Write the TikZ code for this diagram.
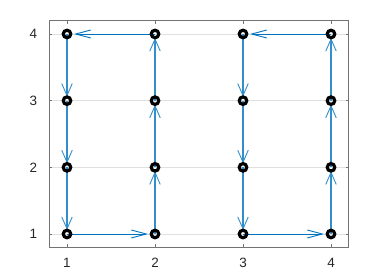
\documentclass[tikz,border=0pt]{standalone}
\usepackage{fontspec}
\setmainfont{Liberation Sans}
\usetikzlibrary{arrows.meta}
\definecolor{mblue}{rgb}{0,0.447,0.741}
\begin{document}
\begin{tikzpicture}[x=88pt,y=66.667pt,
  axisline/.style={draw=black!55, line width=0.6pt},
  gridline/.style={draw=black!12, line width=0.5pt},
  ticklbl/.style={text=black!85, font=\fontsize{13.5}{16}\selectfont, inner sep=0pt},
  marker/.style={circle, draw=black, line width=3.2pt, inner sep=0pt, minimum size=7.5pt},
  harrow/.style={draw=mblue, line width=0.9pt, -{Straight Barb[length=15pt,width=8pt]}, shorten >=7pt},
  varrow/.style={draw=mblue!80, line width=1.2pt, -{Straight Barb[length=12pt,width=10.5pt,line width=0.9pt]}, shorten >=4pt}
]
\useasboundingbox (0.2386,0.34) rectangle (4.625,4.51);
% grid
\foreach \y in {1,2,3,4} \draw[gridline] (0.8,\y) -- (4.2,\y);
% box
\draw[axisline] (0.8,0.8) rectangle (4.2,4.2);
% ticks
\foreach \i in {1,2,3,4} {
  \draw[axisline] (\i,0.8) -- ([yshift=3pt]\i,0.8);
  \draw[axisline] (\i,4.2) -- ([yshift=-3pt]\i,4.2);
  \draw[axisline] (0.8,\i) -- ([xshift=3pt]0.8,\i);
  \draw[axisline] (4.2,\i) -- ([xshift=-3pt]4.2,\i);
  \node[ticklbl, anchor=base] (xl\i) at ([yshift=-20.5pt]\i,0.8) {\i};
  \node[ticklbl, anchor=base east] (yl\i) at ([xshift=-12pt,yshift=-4.8pt]0.8,\i) {\i};
}
% points
\foreach \x in {1,2,3,4} \foreach \y in {1,2,3,4}
  \coordinate (c\x\y) at (\x,\y);
% arrows
\draw[varrow] (c14) -- (c13);
\draw[varrow] (c13) -- (c12);
\draw[varrow] (c12) -- (c11);
\draw[harrow] (c11) -- (c21);
\draw[varrow] (c21) -- (c22);
\draw[varrow] (c22) -- (c23);
\draw[varrow] (c23) -- (c24);
\draw[harrow] (c24) -- (c14);
\draw[varrow] (c34) -- (c33);
\draw[varrow] (c33) -- (c32);
\draw[varrow] (c32) -- (c31);
\draw[harrow] (c31) -- (c41);
\draw[varrow] (c41) -- (c42);
\draw[varrow] (c42) -- (c43);
\draw[varrow] (c43) -- (c44);
\draw[harrow] (c44) -- (c34);
% markers
\foreach \x in {1,2,3,4} \foreach \y in {1,2,3,4}
  \node[marker] (p\x\y) at (c\x\y) {};
\end{tikzpicture}
\end{document}
